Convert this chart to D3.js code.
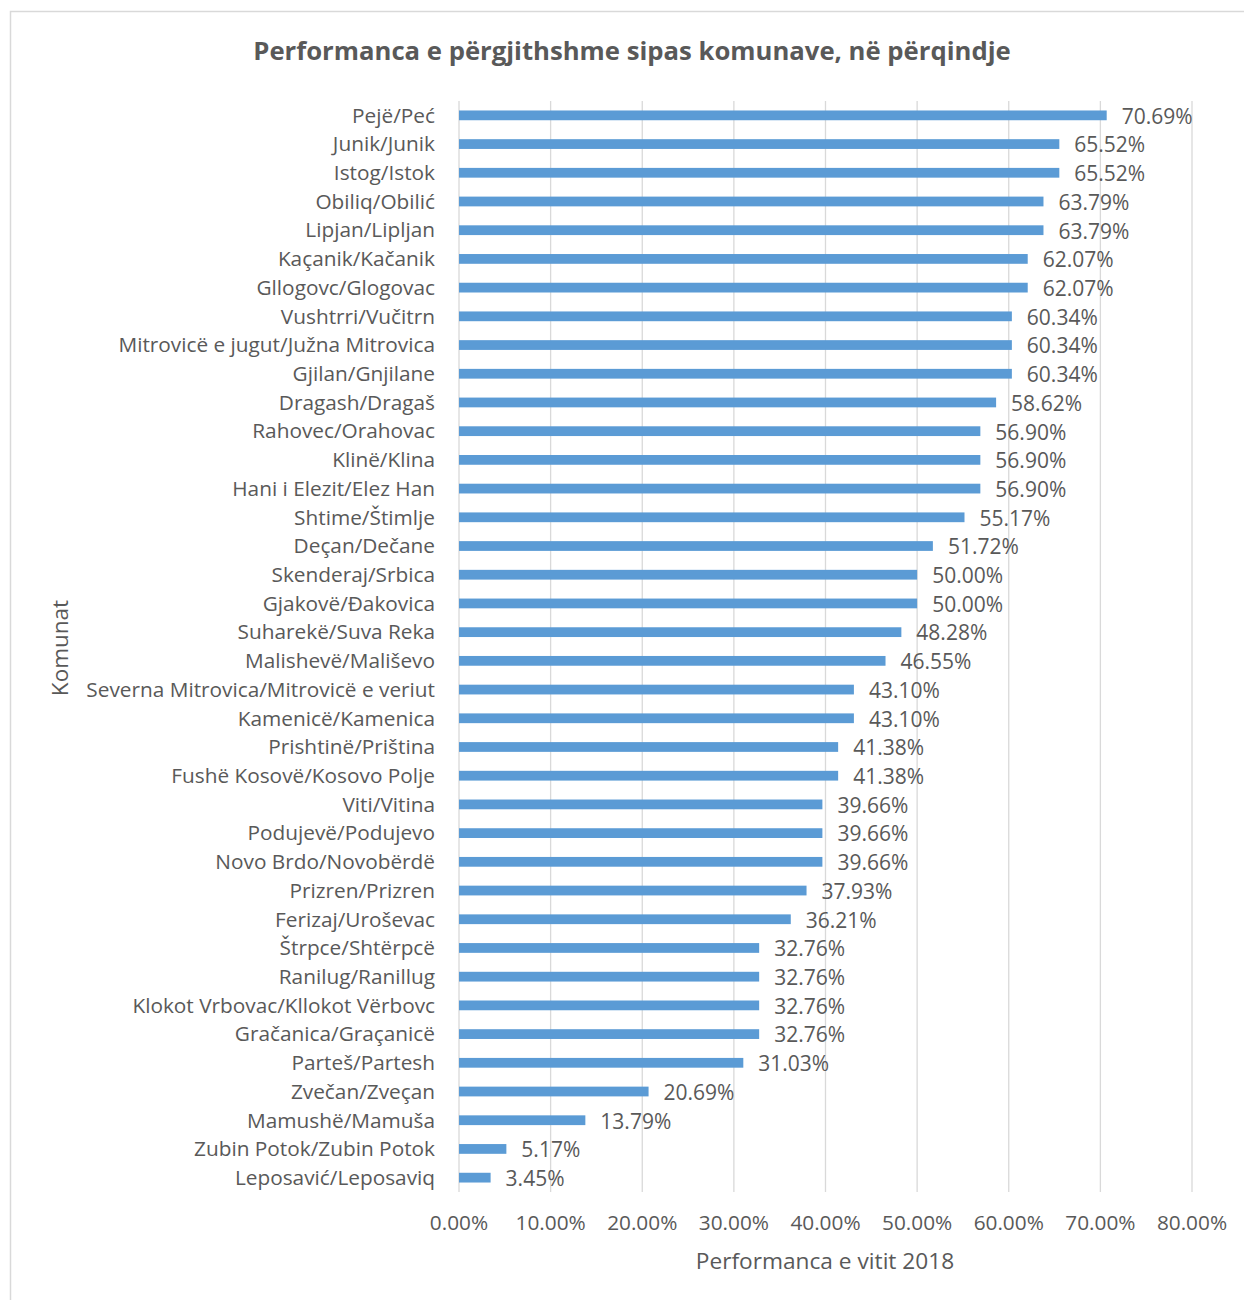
<!DOCTYPE html>
<html><head><meta charset="utf-8">
<script src="https://cdn.jsdelivr.net/npm/d3@7"></script>
<style>body{margin:0;background:#fff;} svg{display:block;}</style>
</head><body>
<svg id="c" width="1244" height="1300"></svg>
<script>
const categories = ["Pejë/Peć","Junik/Junik","Istog/Istok","Obiliq/Obilić","Lipjan/Lipljan","Kaçanik/Kačanik","Gllogovc/Glogovac","Vushtrri/Vučitrn","Mitrovicë e jugut/Južna Mitrovica","Gjilan/Gnjilane","Dragash/Dragaš","Rahovec/Orahovac","Klinë/Klina","Hani i Elezit/Elez Han","Shtime/Štimlje","Deçan/Dečane","Skenderaj/Srbica","Gjakovë/Đakovica","Suharekë/Suva Reka","Malishevë/Mališevo","Severna Mitrovica/Mitrovicë e veriut","Kamenicë/Kamenica","Prishtinë/Priština","Fushë Kosovë/Kosovo Polje","Viti/Vitina","Podujevë/Podujevo","Novo Brdo/Novobërdë","Prizren/Prizren","Ferizaj/Uroševac","Štrpce/Shtërpcë","Ranilug/Ranillug","Klokot Vrbovac/Kllokot Vërbovc","Gračanica/Graçanicë","Parteš/Partesh","Zvečan/Zveçan","Mamushë/Mamuša","Zubin Potok/Zubin Potok","Leposavić/Leposaviq"];
const values = [70.69,65.52,65.52,63.79,63.79,62.07,62.07,60.34,60.34,60.34,58.62,56.90,56.90,56.90,55.17,51.72,50.00,50.00,48.28,46.55,43.10,43.10,41.38,41.38,39.66,39.66,39.66,37.93,36.21,32.76,32.76,32.76,32.76,31.03,20.69,13.79,5.17,3.45];
const xTicks = [0,10,20,30,40,50,60,70,80];
const title = "Performanca e përgjithshme sipas komunave, në përqindje";
const xTitle = "Performanca e vitit 2018";
const yTitle = "Komunat";

const svg = d3.select("#c");
const font = "'Open Sans', sans-serif";
const txt = "#595959";
svg.append("rect").attr("x",10.5).attr("y",11.5).attr("width",1240).attr("height",1300)
  .attr("fill","#fff").attr("stroke","#d9d9d9").attr("stroke-width",1.5);

const L = 459, R = 1192, T = 101, B = 1192;
const x = d3.scaleLinear().domain([0,80]).range([L,R]);
const y = d3.scaleBand().domain(categories).range([T,B]).paddingInner(0.66).paddingOuter(0.33);

svg.append("g").selectAll("line").data(xTicks).join("line")
  .attr("x1",d=>x(d)).attr("x2",d=>x(d)).attr("y1",T).attr("y2",B)
  .attr("stroke","#d9d9d9").attr("stroke-width",1.3);

svg.append("g").selectAll("rect").data(values).join("rect")
  .attr("x",x(0)).attr("y",(d,i)=>y(categories[i]))
  .attr("width",d=>x(d)-x(0)).attr("height",y.bandwidth()).attr("fill","#5b9bd5");

svg.append("g").selectAll("text").data(values).join("text")
  .attr("x",d=>x(d)+15).attr("y",(d,i)=>y(categories[i])+y.bandwidth()/2+1)
  .attr("dy","0.35em").attr("font-family",font).attr("font-size",21).attr("fill",txt)
  .text(d=>d.toFixed(2)+"%");

svg.append("g").selectAll("text").data(categories).join("text")
  .attr("x",435).attr("y",d=>y(d)+y.bandwidth()/2).attr("dy","0.35em")
  .attr("text-anchor","end").attr("font-family",font).attr("font-size",20.8).attr("fill",txt)
  .text(d=>d);

svg.append("g").selectAll("text").data(xTicks).join("text")
  .attr("x",d=>x(d)).attr("y",1223).attr("dy","0.35em").attr("text-anchor","middle")
  .attr("font-family",font).attr("font-size",20.8).attr("fill",txt)
  .text(d=>d.toFixed(2)+"%");

svg.append("text").attr("x",825).attr("y",1261).attr("dy","0.35em").attr("text-anchor","middle")
  .attr("font-family",font).attr("font-size",22.7).attr("fill",txt).text(xTitle);

svg.append("text").attr("transform","translate(60,648) rotate(-90)").attr("dy","0.35em")
  .attr("text-anchor","middle").attr("font-family",font).attr("font-size",22.5).attr("fill",txt).text(yTitle);

svg.append("text").attr("x",632).attr("y",51).attr("dy","0.35em").attr("text-anchor","middle")
  .attr("font-family",font).attr("font-size",25.7).attr("font-weight","bold").attr("fill",txt).text(title);
</script>
</body></html>
